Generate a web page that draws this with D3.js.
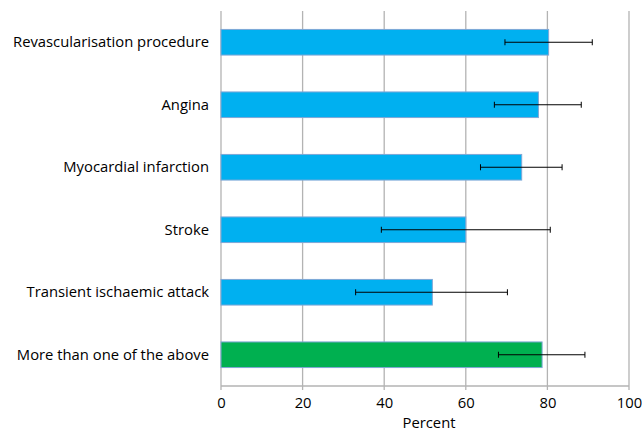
<!DOCTYPE html>
<html>
<head>
<meta charset="utf-8">
<script src="https://cdn.jsdelivr.net/npm/d3@7"></script>
<style>
  body { margin: 0; background: #fff; }
  text { font-family: "Open Sans", sans-serif; fill: #000; }
</style>
</head>
<body>
<div id="chart"></div>
<script>
// Data
const categories = [
    "Revascularisation procedure",
    "Angina",
    "Myocardial infarction",
    "Stroke",
    "Transient ischaemic attack",
    "More than one of the above"
];
const values = [80.3, 77.8, 73.7, 60.0, 51.8, 78.7];
const lower = [69.6, 67.0, 63.6, 39.3, 33.0, 68.0];
const upper = [91.0, 88.3, 83.6, 80.7, 70.2, 89.2];
const xTicks = [0, 20, 40, 60, 80, 100];

const data = categories.map((c, i) => ({
    name: c, value: values[i], lo: lower[i], hi: upper[i],
    combined: i === categories.length - 1
}));

const margin = {top: 11, right: 13, bottom: 47, left: 221};
const width = 642 - margin.left - margin.right;
const height = 433 - margin.top - margin.bottom;

const svg = d3.select("#chart")
    .append("svg")
    .attr("width", 642)
    .attr("height", 433)
    .append("g")
    .attr("transform", `translate(${margin.left},${margin.top})`);

// Scales
const x = d3.scaleLinear().domain([0, 100]).range([0, width]);
const y = d3.scaleBand().domain(categories).range([0, height]).paddingInner(0.59).paddingOuter(0.295);

// Vertical gridlines
svg.selectAll(".grid")
    .data(xTicks)
    .join("line")
    .attr("class", "grid")
    .attr("x1", d => x(d)).attr("x2", d => x(d))
    .attr("y1", 0).attr("y2", height + 4)
    .attr("stroke", "#b3b3b3")
    .attr("stroke-width", 1.3);

// X axis line + labels
svg.append("line")
    .attr("x1", 0).attr("x2", width)
    .attr("y1", height).attr("y2", height)
    .attr("stroke", "#b3b3b3")
    .attr("stroke-width", 1.3);

const xAxis = svg.append("g")
    .attr("transform", `translate(0,${height})`)
    .call(d3.axisBottom(x).tickValues(xTicks).tickSize(0).tickPadding(11));
xAxis.select(".domain").remove();
xAxis.selectAll("text")
    .style("font-size", "14.8px")
    .style("font-family", "'Open Sans', sans-serif");

// Y axis labels
const yAxis = svg.append("g")
    .call(d3.axisLeft(y).tickSize(0).tickPadding(12));
yAxis.select(".domain").remove();
yAxis.selectAll("text")
    .style("font-size", "14.8px")
    .style("font-family", "'Open Sans', sans-serif");

// Axis title
svg.append("text")
    .attr("x", width / 2 + 4)
    .attr("y", height + 42)
    .attr("text-anchor", "middle")
    .style("font-size", "14.8px")
    .text("Percent");

// Bars
svg.selectAll(".bar")
    .data(data)
    .join("rect")
    .attr("class", "bar")
    .attr("x", x(0))
    .attr("y", d => y(d.name))
    .attr("width", d => x(d.value) - x(0))
    .attr("height", y.bandwidth())
    .attr("fill", d => d.combined ? "#00b050" : "#00b0f0")
    .attr("stroke", "#7fa7d6")
    .attr("stroke-width", 1);

// Error bars
const err = svg.selectAll(".err")
    .data(data)
    .join("g")
    .attr("class", "err")
    .attr("transform", d => `translate(0,${y(d.name) + y.bandwidth() / 2})`);

err.append("line")
    .attr("x1", d => x(d.lo)).attr("x2", d => x(d.hi))
    .attr("y1", 0).attr("y2", 0)
    .attr("stroke", "#000").attr("stroke-width", 1);

err.append("line")
    .attr("x1", d => x(d.lo)).attr("x2", d => x(d.lo))
    .attr("y1", -3).attr("y2", 3)
    .attr("stroke", "#000").attr("stroke-width", 1);

err.append("line")
    .attr("x1", d => x(d.hi)).attr("x2", d => x(d.hi))
    .attr("y1", -3).attr("y2", 3)
    .attr("stroke", "#000").attr("stroke-width", 1);
</script>
</body>
</html>
